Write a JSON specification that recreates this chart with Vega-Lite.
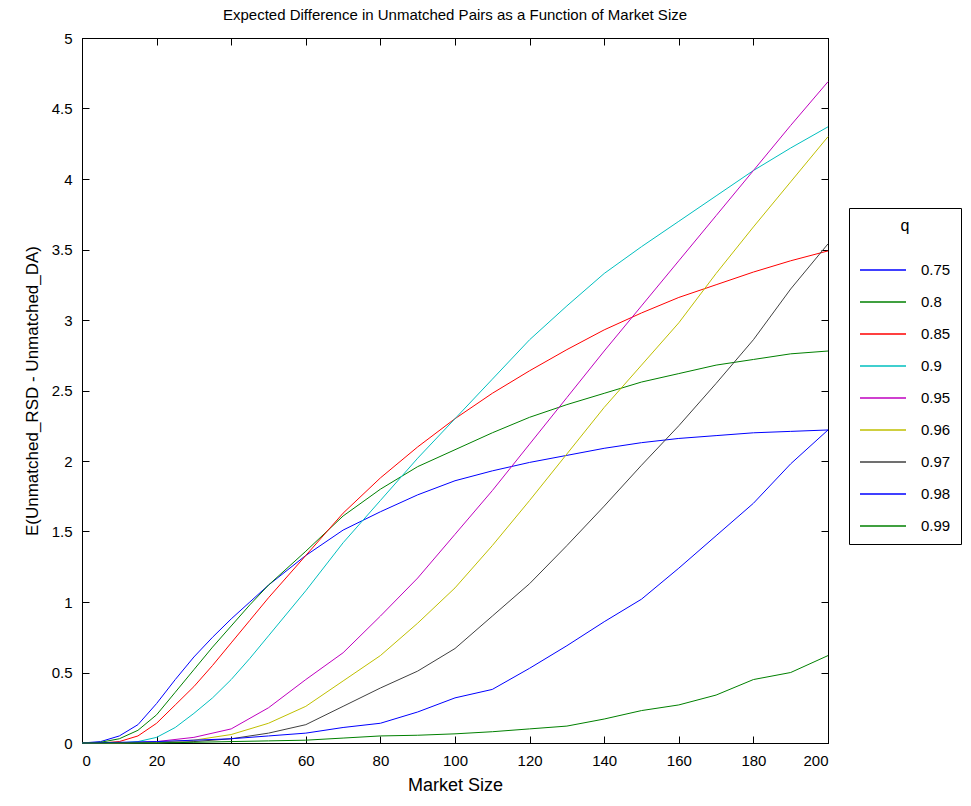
{
  "$schema": "https://vega.github.io/schema/vega-lite/v6.json",
  "width": 746,
  "height": 705,
  "autosize": "none",
  "padding": {"left": 82, "top": 38, "right": 143, "bottom": 63},
  "background": "white",
  "config": {
    "font": "Liberation Sans",
    "view": {"stroke": "black", "strokeWidth": 1},
    "axis": {
      "domainColor": "black", "tickColor": "black", "labelColor": "black", "titleColor": "black",
      "grid": false, "labelFontSize": 15, "titleFontSize": 17, "titleFontWeight": "normal",
      "tickSize": -7, "labelPadding": 17, "format": "~r"
    }
  },
  "title": {"text": "Expected Difference in Unmatched Pairs as a Function of Market Size", "fontSize": 15, "fontWeight": "normal", "color": "black", "anchor": "middle", "offset": 8},
  "data": {"values": [
    {"n":0,"q":"0.75","v":0},{"n":5,"q":"0.75","v":0.01},{"n":10,"q":"0.75","v":0.05},{"n":15,"q":"0.75","v":0.13},{"n":20,"q":"0.75","v":0.28},{"n":25,"q":"0.75","v":0.45},{"n":30,"q":"0.75","v":0.61},{"n":35,"q":"0.75","v":0.75},{"n":40,"q":"0.75","v":0.88},{"n":45,"q":"0.75","v":1.0},{"n":50,"q":"0.75","v":1.12},{"n":60,"q":"0.75","v":1.33},{"n":70,"q":"0.75","v":1.51},{"n":80,"q":"0.75","v":1.64},{"n":90,"q":"0.75","v":1.76},{"n":100,"q":"0.75","v":1.86},{"n":110,"q":"0.75","v":1.93},{"n":120,"q":"0.75","v":1.99},{"n":130,"q":"0.75","v":2.04},{"n":140,"q":"0.75","v":2.09},{"n":150,"q":"0.75","v":2.13},{"n":160,"q":"0.75","v":2.16},{"n":170,"q":"0.75","v":2.18},{"n":180,"q":"0.75","v":2.2},{"n":190,"q":"0.75","v":2.21},{"n":200,"q":"0.75","v":2.22},
    {"n":0,"q":"0.8","v":0},{"n":5,"q":"0.8","v":0.005},{"n":10,"q":"0.8","v":0.03},{"n":15,"q":"0.8","v":0.09},{"n":20,"q":"0.8","v":0.2},{"n":25,"q":"0.8","v":0.36},{"n":30,"q":"0.8","v":0.52},{"n":35,"q":"0.8","v":0.68},{"n":40,"q":"0.8","v":0.83},{"n":45,"q":"0.8","v":0.98},{"n":50,"q":"0.8","v":1.12},{"n":60,"q":"0.8","v":1.36},{"n":70,"q":"0.8","v":1.61},{"n":80,"q":"0.8","v":1.8},{"n":90,"q":"0.8","v":1.96},{"n":100,"q":"0.8","v":2.08},{"n":110,"q":"0.8","v":2.2},{"n":120,"q":"0.8","v":2.31},{"n":130,"q":"0.8","v":2.4},{"n":140,"q":"0.8","v":2.48},{"n":150,"q":"0.8","v":2.56},{"n":160,"q":"0.8","v":2.62},{"n":170,"q":"0.8","v":2.68},{"n":180,"q":"0.8","v":2.72},{"n":190,"q":"0.8","v":2.76},{"n":200,"q":"0.8","v":2.78},
    {"n":0,"q":"0.85","v":0},{"n":5,"q":"0.85","v":0},{"n":10,"q":"0.85","v":0.01},{"n":15,"q":"0.85","v":0.05},{"n":20,"q":"0.85","v":0.14},{"n":25,"q":"0.85","v":0.27},{"n":30,"q":"0.85","v":0.4},{"n":35,"q":"0.85","v":0.55},{"n":40,"q":"0.85","v":0.71},{"n":45,"q":"0.85","v":0.87},{"n":50,"q":"0.85","v":1.03},{"n":60,"q":"0.85","v":1.33},{"n":70,"q":"0.85","v":1.63},{"n":80,"q":"0.85","v":1.88},{"n":90,"q":"0.85","v":2.1},{"n":100,"q":"0.85","v":2.3},{"n":110,"q":"0.85","v":2.48},{"n":120,"q":"0.85","v":2.64},{"n":130,"q":"0.85","v":2.79},{"n":140,"q":"0.85","v":2.93},{"n":150,"q":"0.85","v":3.05},{"n":160,"q":"0.85","v":3.16},{"n":170,"q":"0.85","v":3.25},{"n":180,"q":"0.85","v":3.34},{"n":190,"q":"0.85","v":3.42},{"n":200,"q":"0.85","v":3.49},
    {"n":0,"q":"0.9","v":0},{"n":5,"q":"0.9","v":0},{"n":10,"q":"0.9","v":0},{"n":15,"q":"0.9","v":0.01},{"n":20,"q":"0.9","v":0.04},{"n":25,"q":"0.9","v":0.11},{"n":30,"q":"0.9","v":0.21},{"n":35,"q":"0.9","v":0.32},{"n":40,"q":"0.9","v":0.45},{"n":45,"q":"0.9","v":0.6},{"n":50,"q":"0.9","v":0.76},{"n":60,"q":"0.9","v":1.08},{"n":70,"q":"0.9","v":1.42},{"n":80,"q":"0.9","v":1.72},{"n":90,"q":"0.9","v":2.02},{"n":100,"q":"0.9","v":2.3},{"n":110,"q":"0.9","v":2.58},{"n":120,"q":"0.9","v":2.86},{"n":130,"q":"0.9","v":3.1},{"n":140,"q":"0.9","v":3.33},{"n":150,"q":"0.9","v":3.52},{"n":160,"q":"0.9","v":3.7},{"n":170,"q":"0.9","v":3.88},{"n":180,"q":"0.9","v":4.06},{"n":190,"q":"0.9","v":4.22},{"n":200,"q":"0.9","v":4.37},
    {"n":0,"q":"0.95","v":0},{"n":10,"q":"0.95","v":0},{"n":20,"q":"0.95","v":0.01},{"n":30,"q":"0.95","v":0.04},{"n":40,"q":"0.95","v":0.1},{"n":50,"q":"0.95","v":0.25},{"n":60,"q":"0.95","v":0.45},{"n":70,"q":"0.95","v":0.64},{"n":80,"q":"0.95","v":0.9},{"n":90,"q":"0.95","v":1.17},{"n":100,"q":"0.95","v":1.48},{"n":110,"q":"0.95","v":1.79},{"n":120,"q":"0.95","v":2.12},{"n":130,"q":"0.95","v":2.45},{"n":140,"q":"0.95","v":2.78},{"n":150,"q":"0.95","v":3.1},{"n":160,"q":"0.95","v":3.42},{"n":170,"q":"0.95","v":3.74},{"n":180,"q":"0.95","v":4.06},{"n":190,"q":"0.95","v":4.38},{"n":200,"q":"0.95","v":4.69},
    {"n":0,"q":"0.96","v":0},{"n":10,"q":"0.96","v":0},{"n":20,"q":"0.96","v":0.005},{"n":30,"q":"0.96","v":0.02},{"n":40,"q":"0.96","v":0.06},{"n":50,"q":"0.96","v":0.14},{"n":60,"q":"0.96","v":0.26},{"n":70,"q":"0.96","v":0.44},{"n":80,"q":"0.96","v":0.62},{"n":90,"q":"0.96","v":0.85},{"n":100,"q":"0.96","v":1.1},{"n":110,"q":"0.96","v":1.4},{"n":120,"q":"0.96","v":1.72},{"n":130,"q":"0.96","v":2.05},{"n":140,"q":"0.96","v":2.38},{"n":150,"q":"0.96","v":2.68},{"n":160,"q":"0.96","v":2.98},{"n":170,"q":"0.96","v":3.33},{"n":180,"q":"0.96","v":3.66},{"n":190,"q":"0.96","v":3.98},{"n":200,"q":"0.96","v":4.3},
    {"n":0,"q":"0.97","v":0},{"n":20,"q":"0.97","v":0},{"n":30,"q":"0.97","v":0.01},{"n":40,"q":"0.97","v":0.03},{"n":50,"q":"0.97","v":0.07},{"n":60,"q":"0.97","v":0.13},{"n":70,"q":"0.97","v":0.26},{"n":80,"q":"0.97","v":0.39},{"n":90,"q":"0.97","v":0.51},{"n":100,"q":"0.97","v":0.67},{"n":110,"q":"0.97","v":0.9},{"n":120,"q":"0.97","v":1.13},{"n":130,"q":"0.97","v":1.4},{"n":140,"q":"0.97","v":1.68},{"n":150,"q":"0.97","v":1.97},{"n":160,"q":"0.97","v":2.25},{"n":170,"q":"0.97","v":2.55},{"n":180,"q":"0.97","v":2.86},{"n":190,"q":"0.97","v":3.22},{"n":200,"q":"0.97","v":3.54},
    {"n":0,"q":"0.98","v":0},{"n":20,"q":"0.98","v":0.01},{"n":30,"q":"0.98","v":0.02},{"n":40,"q":"0.98","v":0.03},{"n":50,"q":"0.98","v":0.05},{"n":60,"q":"0.98","v":0.07},{"n":70,"q":"0.98","v":0.11},{"n":80,"q":"0.98","v":0.14},{"n":90,"q":"0.98","v":0.22},{"n":100,"q":"0.98","v":0.32},{"n":110,"q":"0.98","v":0.38},{"n":120,"q":"0.98","v":0.53},{"n":130,"q":"0.98","v":0.69},{"n":140,"q":"0.98","v":0.86},{"n":150,"q":"0.98","v":1.02},{"n":160,"q":"0.98","v":1.24},{"n":170,"q":"0.98","v":1.47},{"n":180,"q":"0.98","v":1.7},{"n":190,"q":"0.98","v":1.98},{"n":200,"q":"0.98","v":2.22},
    {"n":0,"q":"0.99","v":0},{"n":20,"q":"0.99","v":0},{"n":30,"q":"0.99","v":0.005},{"n":40,"q":"0.99","v":0.01},{"n":50,"q":"0.99","v":0.015},{"n":60,"q":"0.99","v":0.02},{"n":70,"q":"0.99","v":0.035},{"n":80,"q":"0.99","v":0.05},{"n":90,"q":"0.99","v":0.055},{"n":100,"q":"0.99","v":0.065},{"n":110,"q":"0.99","v":0.08},{"n":120,"q":"0.99","v":0.1},{"n":130,"q":"0.99","v":0.12},{"n":140,"q":"0.99","v":0.17},{"n":150,"q":"0.99","v":0.23},{"n":160,"q":"0.99","v":0.27},{"n":170,"q":"0.99","v":0.34},{"n":180,"q":"0.99","v":0.45},{"n":190,"q":"0.99","v":0.5},{"n":200,"q":"0.99","v":0.62}
  ]},
  "layer": [
    {
      "mark": {"type": "line", "strokeWidth": 1},
      "encoding": {
        "x": {"field": "n", "type": "quantitative", "scale": {"domain": [0, 200], "nice": false}, "axis": {"title": "Market Size", "titleFontSize": 18, "values": [0,20,40,60,80,100,120,140,160,180,200], "orient": "bottom", "titlePadding": 8}},
        "y": {"field": "v", "type": "quantitative", "scale": {"domain": [0, 5], "nice": false}, "axis": {"title": "E(Unmatched_RSD - Unmatched_DA)", "values": [0,0.5,1,1.5,2,2.5,3,3.5,4,4.5,5], "orient": "left", "titlePadding": 10}},
        "color": {"field": "q", "type": "nominal",
          "scale": {"domain": ["0.75","0.8","0.85","0.9","0.95","0.96","0.97","0.98","0.99"], "range": ["#0000ff","#008000","#ff0000","#00bfbf","#bf00bf","#bfbf00","#404040","#0000ff","#008000"]},
          "legend": {"title": "q", "orient": "none", "legendX": 767, "legendY": 170, "strokeColor": "black", "fillColor": "white", "padding": 10,
            "titleFontSize": 16, "titleFontWeight": "normal", "titleColor": "black", "titleAnchor": "middle", "titlePadding": 12,
            "labelFontSize": 15, "labelColor": "black", "symbolType": "stroke", "symbolSize": 2116, "symbolStrokeWidth": 1.3, "rowPadding": 0, "labelOffset": 14}},
        "detail": {"field": "q"}
      }
    },
    {
      "mark": {"type": "line", "strokeWidth": 1, "opacity": 0},
      "encoding": {
        "x": {"field": "n", "type": "quantitative", "axis": {"orient": "top", "labels": false, "title": null, "values": [0,20,40,60,80,100,120,140,160,180,200]}},
        "y": {"field": "v", "type": "quantitative", "axis": {"orient": "right", "labels": false, "title": null, "values": [0,0.5,1,1.5,2,2.5,3,3.5,4,4.5,5]}},
        "detail": {"field": "q"}
      }
    }
  ],
  "resolve": {"axis": {"x": "independent", "y": "independent"}}
}
